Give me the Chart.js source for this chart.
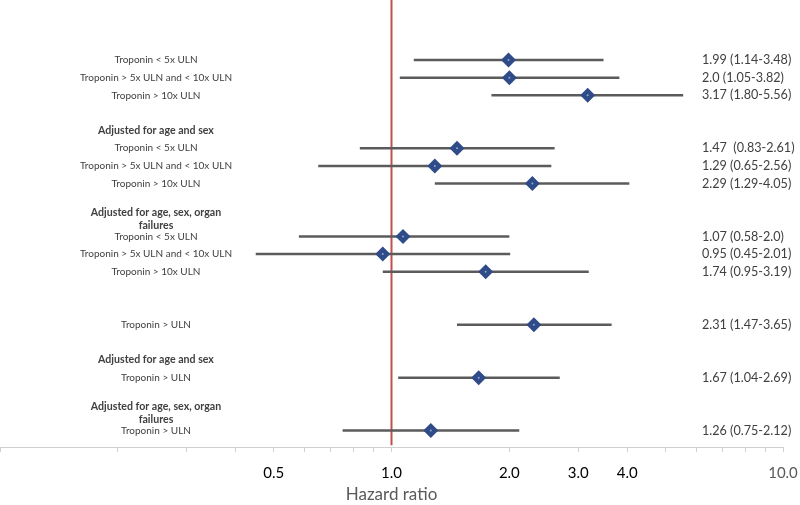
<!DOCTYPE html>
<html>
<head>
<meta charset="utf-8">
<script src="https://cdn.jsdelivr.net/npm/chart.js@4.4.1/dist/chart.umd.min.js"></script>
<style>
  html, body { margin: 0; padding: 0; background: #fff; }
  #wrap { width: 800px; height: 505px; position: relative; }
</style>
</head>
<body>
<div id="wrap"><canvas id="forest"></canvas></div>
<script>
// rows of the forest plot, top to bottom
const rowLabels = [
  'Troponin < 5x ULN', 'Troponin > 5x ULN and < 10x ULN', 'Troponin > 10x ULN',
  'Troponin < 5x ULN', 'Troponin > 5x ULN and < 10x ULN', 'Troponin > 10x ULN',
  'Troponin < 5x ULN', 'Troponin > 5x ULN and < 10x ULN', 'Troponin > 10x ULN',
  'Troponin > ULN', 'Troponin > ULN', 'Troponin > ULN'
];
const rowIndex = [3, 4, 5, 8, 9, 10, 13, 14, 15, 18, 21, 24];
const hazard = [1.99, 2.0, 3.17, 1.47, 1.29, 2.29, 1.07, 0.95, 1.74, 2.31, 1.67, 1.26];
const ciLow = [1.14, 1.05, 1.80, 0.83, 0.65, 1.29, 0.58, 0.45, 0.95, 1.47, 1.04, 0.75];
const ciHigh = [3.48, 3.82, 5.56, 2.61, 2.56, 4.05, 2.0, 2.01, 3.19, 3.65, 2.69, 2.12];
const ciText = [
  '1.99 (1.14-3.48)', '2.0 (1.05-3.82)', '3.17 (1.80-5.56)',
  '1.47  (0.83-2.61)', '1.29 (0.65-2.56)', '2.29 (1.29-4.05)',
  '1.07 (0.58-2.0)', '0.95 (0.45-2.01)', '1.74 (0.95-3.19)',
  '2.31 (1.47-3.65)', '1.67 (1.04-2.69)', '1.26 (0.75-2.12)'
];
const groupHeaders = [
  ['Adjusted for age and sex'],
  ['Adjusted for age, sex, organ', 'failures'],
  ['Adjusted for age and sex'],
  ['Adjusted for age, sex, organ', 'failures']
];
const groupHeaderRow = [7, 12, 20, 23];
const xTicks = [0.1, 0.2, 0.3, 0.4, 0.5, 0.6, 0.7, 0.8, 0.9, 1, 2, 3, 4, 5, 6, 7, 8, 9, 10];
const xLabelled = [0.5, 1, 2, 3, 4, 10];

const FONT = 'Lato, "Open Sans", sans-serif';
const Y_MIN = -0.4, Y_MAX = 24.93;

const datasets = [];
// diamonds
datasets.push({
  type: 'scatter',
  data: hazard.map((v, i) => ({ x: v, y: rowIndex[i] })),
  pointStyle: 'rectRot',
  pointRadius: 7.5,
  backgroundColor: '#2f4b88',
  borderWidth: 0,
  order: 0
});
// small light centre dot
datasets.push({
  type: 'scatter',
  data: hazard.map((v, i) => ({ x: v, y: rowIndex[i] })),
  pointRadius: 1,
  backgroundColor: '#8ea6d6',
  borderWidth: 0,
  order: -1
});
// CI lines
hazard.forEach((v, i) => {
  datasets.push({
    type: 'line',
    data: [{ x: ciLow[i], y: rowIndex[i] }, { x: ciHigh[i], y: rowIndex[i] }],
    borderColor: '#5b5b5b',
    borderWidth: 2.5,
    pointRadius: 0,
    order: 1
  });
});
// reference line at HR = 1
datasets.push({
  type: 'line',
  data: [{ x: 1, y: Y_MIN }, { x: 1, y: Y_MAX - 0.1 }],
  borderColor: '#c0504d',
  borderWidth: 2,
  pointRadius: 0,
  order: 2
});

const textPlugin = {
  id: 'forestText',
  afterDatasetsDraw(chart) {
    const { ctx, scales: { y }, chartArea } = chart;
    ctx.save();
    ctx.fillStyle = '#404040';
    ctx.textBaseline = 'middle';
    // row labels
    ctx.textAlign = 'center';
    ctx.font = '10px ' + FONT;
    rowLabels.forEach((t, i) => {
      ctx.fillText(t, chartArea.left + 156, y.getPixelForValue(rowIndex[i]));
    });
    // group headers
    ctx.font = 'bold 10.6px ' + FONT;
    groupHeaders.forEach((lines, g) => {
      const mid = groupHeaderRow[g];
      lines.forEach((t, k) => {
        const off = (k - (lines.length - 1) / 2) * 0.72;
        ctx.fillText(t, chartArea.left + 156, y.getPixelForValue(mid + off));
      });
    });
    // estimates on the right
    ctx.textAlign = 'left';
    ctx.font = '12.6px ' + FONT;
    ciText.forEach((t, i) => {
      ctx.fillText(t, chartArea.left + 702, y.getPixelForValue(rowIndex[i]));
    });
    ctx.restore();
  }
};

new Chart(document.getElementById('forest'), {
  data: { datasets },
  options: {
    responsive: true,
    maintainAspectRatio: false,
    animation: false,
    layout: { autoPadding: false, padding: { left: 0, right: 17, top: 0, bottom: 0 } },
    plugins: { legend: { display: false }, tooltip: { enabled: false } },
    scales: {
      x: {
        type: 'logarithmic',
        min: 0.1,
        max: 10,
        afterBuildTicks: (scale) => {
          scale.ticks = xTicks.map(v => ({ value: v }));
        },
        afterFit: (scale) => {
          scale.height = 58;
          scale.paddingLeft = 0;
          scale.paddingRight = 17;
        },
        ticks: {
          autoSkip: false,
          maxRotation: 0,
          padding: 12,
          font: { family: FONT, size: 15 },
          color: (c) => c.tick && c.tick.value === 10 ? '#595959' : '#000',
          callback: (v) => xLabelled.includes(v) ? v.toFixed(1) : ''
        },
        grid: {
          drawOnChartArea: false,
          drawTicks: true,
          tickLength: 5,
          color: '#d0d0d0'
        },
        border: { color: '#d0d0d0', width: 1 },
        title: {
          display: true,
          text: 'Hazard ratio',
          color: '#595959',
          font: { family: FONT, size: 17 },
          padding: { top: 0, bottom: 0 }
        }
      },
      y: {
        type: 'linear',
        display: false,
        reverse: true,
        min: Y_MIN,
        max: Y_MAX
      }
    }
  },
  plugins: [textPlugin]
});
</script>
</body>
</html>
